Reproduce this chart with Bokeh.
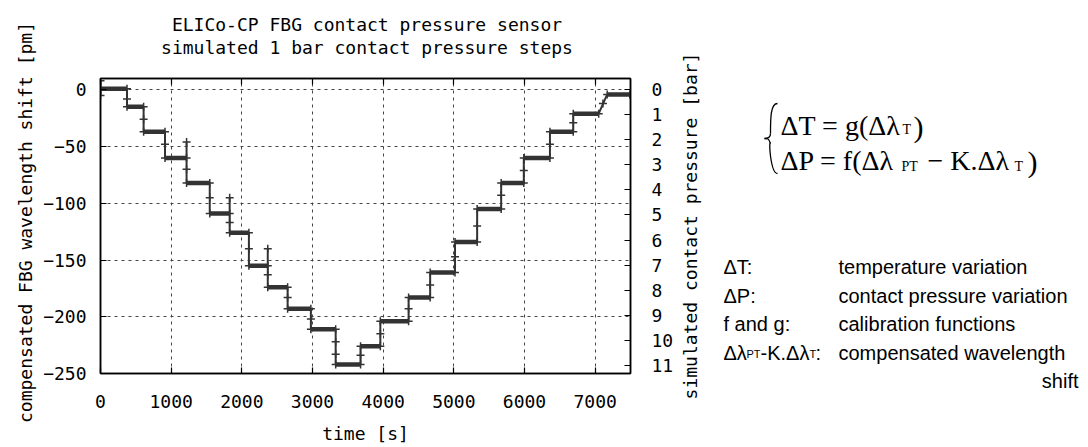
import math
from bokeh.plotting import figure
from bokeh.models import Range1d, LinearAxis, FixedTicker
from bokeh.layouts import row, column
from bokeh.embed import file_html
from bokeh.resources import INLINE
from bokeh.core.properties import value

# ---------------- data ----------------
title_lines = ["ELICo-CP FBG contact pressure sensor", "simulated 1 bar contact pressure steps"]
x_label = "time [s]"
y_label = "compensated FBG wavelength shift [pm]"
y2_label = "simulated contact pressure [bar]"

x_ticks = [0, 1000, 2000, 3000, 4000, 5000, 6000, 7000]
y_ticks = [0, -50, -100, -150, -200, -250]
y2_ticks = [0, 1, 2, 3, 4, 5, 6, 7, 8, 9, 10, 11]

# path vertices of the measured staircase (time [s], shift [pm])
time_s = [0, 0, 0, 375, 375, 610, 610, 913, 913, 1218, 1218, 1218, 1546, 1546,
          1828, 1828, 1828, 2100, 2100, 2367, 2367, 2367, 2648, 2648, 2977, 2977,
          3328, 3328, 3680, 3680, 3960, 3960, 4360, 4360, 4665, 4665, 5017, 5017,
          5330, 5330, 5670, 5670, 5990, 5990, 6360, 6360, 6690, 6690, 7050, 7170, 7490]
shift_pm = [8, -5, 1, 1, -15, -15, -37, -37, -60, -60, -46, -82, -82, -109,
            -109, -95, -126, -126, -155, -155, -140, -174, -174, -193, -193, -211,
            -211, -242, -242, -226, -226, -204, -204, -183, -183, -161, -161, -134,
            -134, -105, -105, -82, -82, -60, -60, -37, -37, -21, -21, -4, -4]

# extra '+' samples seen along the transitions
mark_t = [375, 610, 913, 1218, 1546, 1828, 2100, 2367, 2648, 2977, 3328, 3328,
          3680, 3960, 4360, 4665, 5017, 5330, 5670, 5990, 6360, 6690, 7110]
mark_pm = [-8, -26, -48, -70, -95, -117, -140, -163, -183, -202, -222, -233,
           -234, -215, -193, -172, -147, -120, -93, -71, -48, -29, -12]

X_RANGE = (0, 7500)
Y_RANGE = (-250, 10)
PM_PER_BAR = 22.06

# right-side notes
eq_font = "Liberation Serif"
note_font = "Liberation Sans"
note_keys = ["\u0394T:", "\u0394P:", "f and g:"]
note_desc = ["temperature variation", "contact pressure variation",
             "calibration functions", "compensated wavelength"]

MONO = "DejaVu Sans Mono"
INK = "#333333"

# ---------------- layout (page pixels) ----------------
W_LEFT, W_MAIN_END, W_ALL, H, H_TITLE = 40, 676, 1080, 447, 64
FRAME_L, FRAME_R, FRAME_T, FRAME_B = 100, 633, 78, 373


def blank_panel(w, h, x0, y0):
    f = figure(width=w, height=h, x_range=Range1d(x0, x0 + w), y_range=Range1d(y0 + h, y0),
               output_backend="svg", toolbar_location=None,
               x_axis_location=None, y_axis_location=None,
               min_border_left=0, min_border_right=0, min_border_top=0, min_border_bottom=0)
    f.grid.visible = False
    f.outline_line_color = None
    f.background_fill_color = "white"
    f.border_fill_color = "white"
    try:
        f.title = None
    except Exception:
        f.title.visible = False
    return f


# ---------------- left strip: y-axis title ----------------
lft = blank_panel(W_LEFT, H, 0, 0)
lft.text(x=[25], y=[222], text=[y_label], angle=math.pi / 2,
         text_font=value(MONO), text_font_size="18px", text_align="center",
         text_baseline="alphabetic", text_color="black")

# ---------------- title strip ----------------
W_MID = W_MAIN_END - W_LEFT
t = blank_panel(W_MID, H_TITLE, W_LEFT, 0)
t.text(x=[(FRAME_L + FRAME_R) / 2] * 2, y=[24, 47], text=title_lines,
       text_font=value(MONO), text_font_size="18px", text_align="center",
       text_baseline="alphabetic", text_color="black")

# ---------------- main chart ----------------
p = figure(width=W_MID, height=H - H_TITLE, x_range=Range1d(*X_RANGE), y_range=Range1d(*Y_RANGE),
           output_backend="svg", toolbar_location=None,
           min_border_left=FRAME_L - W_LEFT, min_border_right=W_MAIN_END - FRAME_R,
           min_border_top=FRAME_T - H_TITLE, min_border_bottom=H - FRAME_B)
p.background_fill_color = "white"
p.border_fill_color = "white"
p.outline_line_color = "black"
p.outline_line_width = 1.5
try:
    p.title = None
except Exception:
    p.title.visible = False

p.extra_y_ranges = {"bar": Range1d(start=-Y_RANGE[0] / PM_PER_BAR, end=-Y_RANGE[1] / PM_PER_BAR)}


def style_axis(ax, ticks):
    ax.ticker = FixedTicker(ticks=ticks)
    ax.major_tick_in = 6
    ax.major_tick_out = 0
    ax.minor_tick_in = 0
    ax.minor_tick_out = 0
    ax.axis_line_color = "black"
    ax.axis_line_width = 1.5
    ax.major_tick_line_color = "black"
    ax.major_tick_line_width = 1.2
    ax.major_label_text_font = MONO
    ax.major_label_text_font_size = "18px"
    ax.major_label_text_color = "black"
    ax.axis_label_text_font = MONO
    ax.axis_label_text_font_size = "18px"
    ax.axis_label_text_font_style = "normal"
    ax.axis_label_text_color = "black"


xa = p.xaxis[0]
style_axis(xa, x_ticks)
xa.axis_label = x_label
xa.major_label_standoff = 21
xa.axis_label_standoff = 12

ya = p.yaxis[0]
style_axis(ya, y_ticks)
ya.major_label_standoff = 14

top = LinearAxis()
style_axis(top, x_ticks)
top.major_label_overrides = {tk: "" for tk in x_ticks}
top.major_label_text_font_size = "1px"
top.major_label_standoff = 0
p.add_layout(top, "above")

ra = LinearAxis(y_range_name="bar")
style_axis(ra, y2_ticks)
ra.major_label_standoff = 21
p.add_layout(ra, "right")

for g, ticks in ((p.xgrid[0], x_ticks), (p.ygrid[0], y_ticks)):
    g.ticker = FixedTicker(ticks=ticks)
    g.grid_line_color = "#444444"
    g.grid_line_dash = "3 4"
    g.grid_line_width = 1

p.line(time_s, shift_pm, line_color=INK, line_width=2)
# thicken flat parts (pairs of consecutive vertices at equal level)
seg_x0, seg_x1, seg_y = [], [], []
for i in range(len(time_s) - 1):
    if shift_pm[i] == shift_pm[i + 1] and time_s[i] != time_s[i + 1]:
        seg_x0.append(time_s[i]); seg_x1.append(time_s[i + 1]); seg_y.append(shift_pm[i])
p.segment(x0=seg_x0, y0=seg_y, x1=seg_x1, y1=seg_y, line_color=INK, line_width=4.5)
p.scatter(time_s + mark_t, shift_pm + mark_pm, marker="cross", size=8,
          line_color=INK, line_width=1.5)

# ---------------- notes panel (data units = page pixels) ----------------
q = blank_panel(W_ALL - W_MAIN_END, H, W_MAIN_END, 0)
for fig in (lft, t, p, q):
    try:
        fig.frame_align = False
    except Exception:
        pass

# right-axis title of the chart (reads upwards, like gnuplot's y2label)
q.text(x=[689.5], y=[(FRAME_T + FRAME_B) / 2], text=[y2_label], angle=math.pi / 2,
       text_font=value(MONO), text_font_size="18px", text_align="center",
       text_baseline="alphabetic", text_color="black")

# brace
q.bezier(x0=[777, 770, 764, 770], y0=[103, 133, 138, 143],
         x1=[770, 764, 770, 777], y1=[133, 138, 143, 173],
         cx0=[770, 770, 768, 768], cy0=[103, 137, 138, 139],
         cx1=[770, 768, 768, 770], cy1=[118, 138, 138, 173],
         line_color="black", line_width=1.3)

def tx(x, y, s, size, font=eq_font, align="left"):
    q.text(x=[x], y=[y], text=[s], text_font=value(font), text_font_size=size,
           text_baseline="alphabetic", text_align=align, text_color="black")

# equation line 1
tx(780, 125, "\u0394T = g(\u0394\u03bb", "28px")
tx(902, 128.5, "T", "14px")
tx(913, 126, ")", "30px")
# equation line 2
tx(780, 160, "\u0394P = f(\u0394\u03bb", "28px")
tx(901, 166, "PT", "14px")
tx(927, 160, "\u2212 K.\u0394\u03bb", "28px")
tx(1014, 166, "T", "14px")
tx(1027, 161, ")", "30px")

rows_y = [266.5, 295, 323.5, 352]
for k, yy in zip(note_keys, rows_y[:3]):
    tx(723, yy, k, "20px", font=note_font)
# row 4 key with subscripts
tx(723, rows_y[3], "\u0394\u03bb", "20px", font=note_font)
tx(746, rows_y[3] + 1, "PT", "11px", font=note_font)
tx(760, rows_y[3], "-K.\u0394\u03bb", "20px", font=note_font)
tx(809, rows_y[3] + 1, "T", "11px", font=note_font)
tx(815, rows_y[3], ":", "20px", font=note_font)
for d, yy in zip(note_desc, rows_y):
    tx(838, yy, d, "20px", font=note_font)
tx(1078, 380, "shift", "20px", font=note_font, align="right")

layout = row(lft, column(t, p), q)
open("out.html", "w").write(file_html(layout, INLINE))
